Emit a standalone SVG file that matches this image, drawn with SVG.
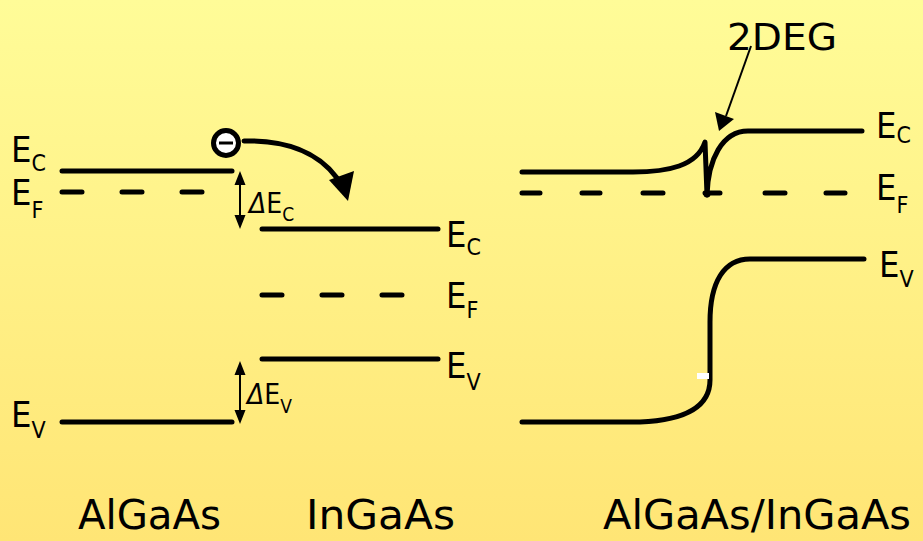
<svg xmlns="http://www.w3.org/2000/svg" width="923" height="541" viewBox="0 0 923 541">
  <defs>
    <linearGradient id="bg" x1="0" y1="0" x2="0" y2="1">
      <stop offset="0" stop-color="#FFFC98"/>
      <stop offset="1" stop-color="#FFE575"/>
    </linearGradient>
  </defs>
  <style>
    .band { fill: none; stroke: #000; stroke-width: 5; stroke-linecap: round; stroke-linejoin: round; }
    .dash { fill: none; stroke: #000; stroke-width: 5; stroke-linecap: round; }
    .thin { fill: none; stroke: #000; stroke-width: 2; }
    .head { fill: #000; }
    text { font-family: "Comic Sans MS", "Liberation Sans Narrow", "DejaVu Sans Condensed", sans-serif; fill: #000; }
    .lbl { font-size: 36px; }
    .sub { font-size: 23px; }
    .dl { font-size: 28px; }
    .dsub { font-size: 19px; }
    .mat { font-size: 40px; }
  </style>

  <rect x="0" y="0" width="923" height="541" fill="url(#bg)"/>

  <!-- AlGaAs bands (left) -->
  <g id="algaas">
    <line class="band" x1="62" y1="171" x2="232" y2="171"/>
    <path class="dash" d="M62,192 H82 M122,192 H142 M182,192 H202"/>
    <line class="band" x1="62" y1="422" x2="232" y2="422"/>
    <text class="lbl" x="11" y="162">E<tspan class="sub" dy="9">C</tspan></text>
    <text class="lbl" x="11" y="205">E<tspan class="sub" dy="13">F</tspan></text>
    <text class="lbl" x="11" y="427">E<tspan class="sub" dy="11">V</tspan></text>
  </g>

  <!-- InGaAs bands (middle) -->
  <g id="ingaas">
    <line class="band" x1="262" y1="229" x2="438" y2="229"/>
    <path class="dash" d="M262,295 H282 M322,295 H342 M382,295 H402"/>
    <line class="band" x1="262" y1="359" x2="438" y2="359"/>
    <text class="lbl" x="446" y="247">E<tspan class="sub" dy="8">C</tspan></text>
    <text class="lbl" x="446" y="308">E<tspan class="sub" dy="10">F</tspan></text>
    <text class="lbl" x="446" y="378">E<tspan class="sub" dy="12">V</tspan></text>
  </g>

  <!-- band offsets -->
  <g id="offsets">
    <line class="thin" x1="240" y1="182" x2="240" y2="218"/>
    <path class="head" d="M234.5,185 L240,171 L245.5,185 Z M234.5,215 L240,229 L245.5,215 Z"/>
    <text class="dl" x="249" y="213"><tspan font-style="italic">Δ</tspan>E<tspan class="dsub" dy="8">C</tspan></text>
    <line class="thin" x1="240" y1="372" x2="240" y2="412"/>
    <path class="head" d="M234.5,375 L240,361 L245.5,375 Z M234.5,410 L240,424 L245.5,410 Z"/>
    <text class="dl" x="247" y="404"><tspan font-style="italic">Δ</tspan>E<tspan class="dsub" dy="9">V</tspan></text>
  </g>

  <!-- electron transferring across the interface -->
  <g id="electron">
    <circle cx="226" cy="143" r="12.5" fill="#fff" stroke="#000" stroke-width="5"/>
    <line x1="219" y1="143" x2="233" y2="143" stroke="#000" stroke-width="3"/>
    <path d="M244,141 C285,140 318,152 337,178" fill="none" stroke="#000" stroke-width="5" stroke-linecap="round"/>
    <path d="M329,180 L354,171 L348,201 Z" fill="#000"/>
  </g>

  <!-- AlGaAs/InGaAs heterojunction (right) -->
  <g id="heterojunction">
    <path class="band" d="M522,172 H633 C668,172 697,166 705,142 L707,195 C708,160 722,131 748,131 H862"/>
    <path class="dash" d="M522,193 H540 M582,193 H600 M643,193 H663 M705,193 H720 M765,193 H785 M826,193 H845"/>
    <circle cx="707" cy="194" r="3.5" fill="#000"/>
    <path class="band" d="M522,422 H640 C688,420 710,405 710,380 V322 C710,282 724,259 750,259 H864"/>
    <rect x="697" y="373" width="12" height="6" fill="#fff"/>
    <text class="lbl" x="876" y="138">E<tspan class="sub" dy="5">C</tspan></text>
    <text class="lbl" x="876" y="200">E<tspan class="sub" dy="13">F</tspan></text>
    <text class="lbl" x="879" y="277">E<tspan class="sub" dy="10">V</tspan></text>
  </g>

  <!-- 2DEG callout -->
  <g id="twodeg">
    <text x="727" y="50" font-size="38" textLength="110" lengthAdjust="spacingAndGlyphs">2DEG</text>
    <line x1="751" y1="46" x2="726" y2="116" stroke="#000" stroke-width="2"/>
    <path d="M715,112 L734,119 L719,131 Z" fill="#000"/>
  </g>

  <!-- material labels -->
  <g id="materials">
    <text class="mat" x="78" y="529" textLength="143" lengthAdjust="spacingAndGlyphs">AlGaAs</text>
    <text class="mat" x="306" y="529" textLength="149" lengthAdjust="spacingAndGlyphs">InGaAs</text>
    <text class="mat" x="603" y="529" textLength="308" lengthAdjust="spacingAndGlyphs">AlGaAs/InGaAs</text>
  </g>
</svg>
